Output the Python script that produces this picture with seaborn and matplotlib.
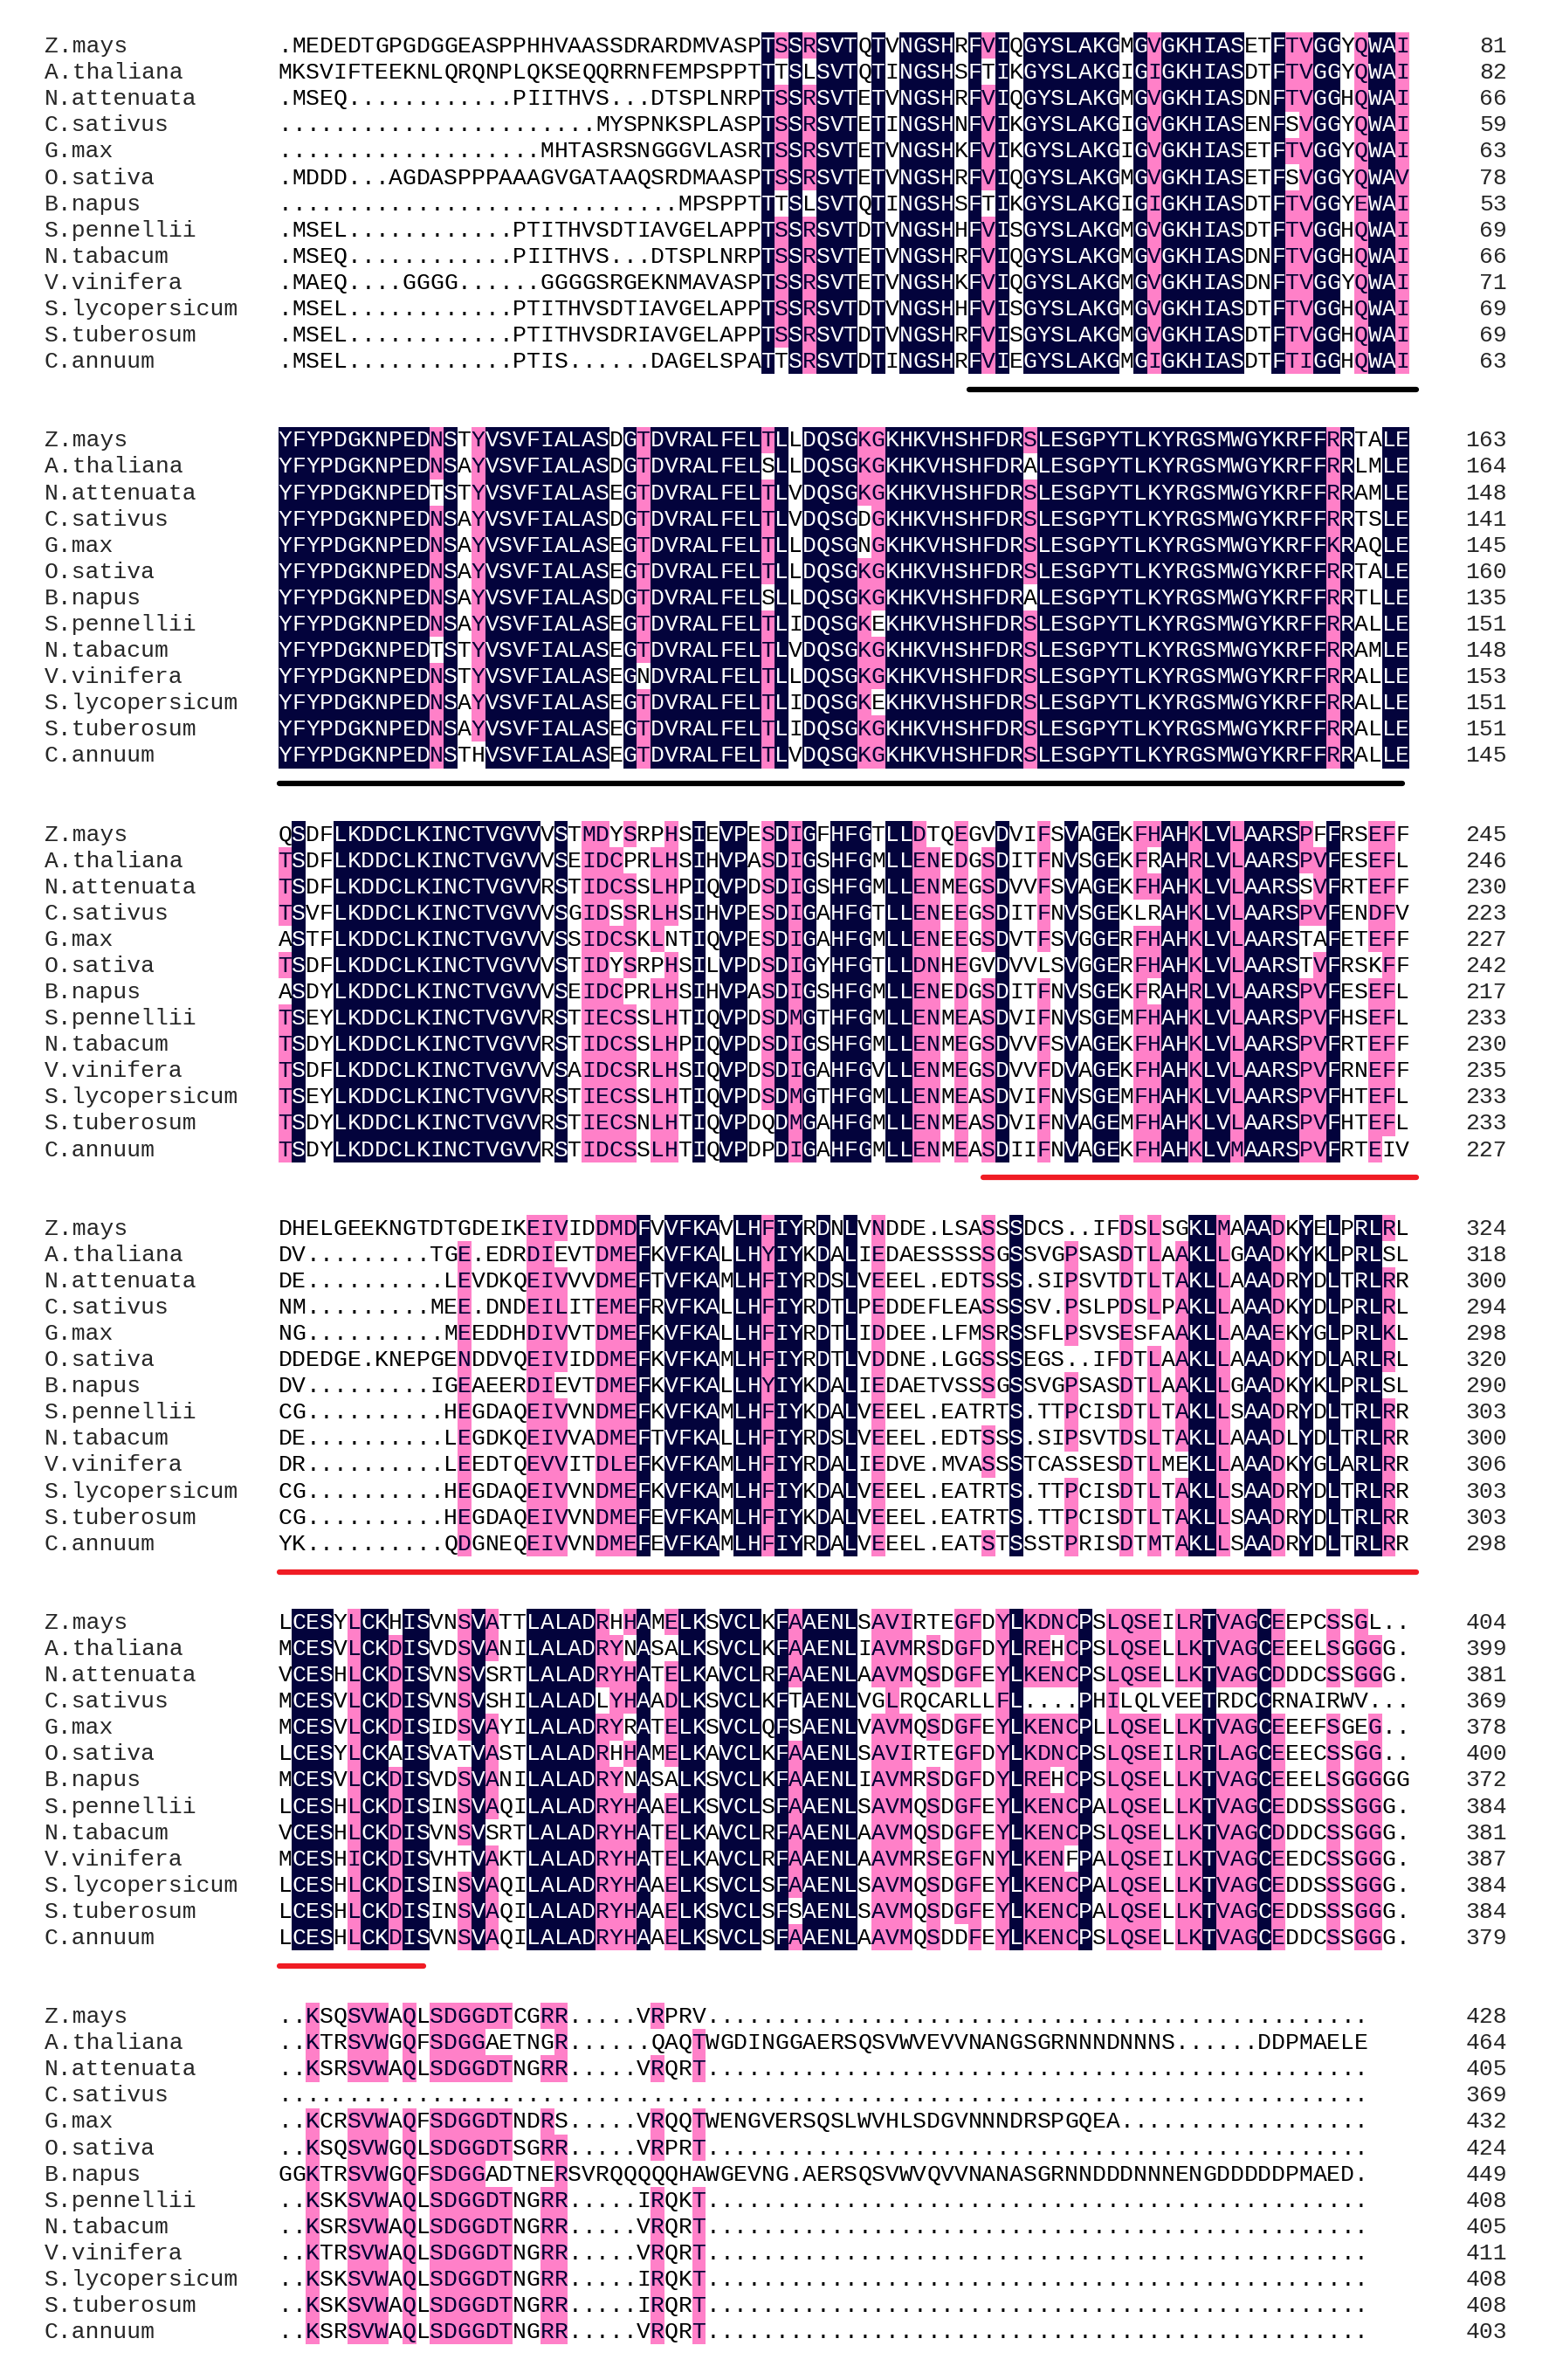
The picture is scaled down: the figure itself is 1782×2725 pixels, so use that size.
import numpy as np
import pandas as pd
import matplotlib
matplotlib.use("Agg")
import matplotlib.pyplot as plt
import seaborn as sns
from collections import Counter
from matplotlib.colors import ListedColormap

# species in alignment order
species = ["Z.mays", "A.thaliana", "N.attenuata", "C.sativus", "G.max", "O.sativa",
           "B.napus", "S.pennellii", "N.tabacum", "V.vinifera", "S.lycopersicum",
           "S.tuberosum", "C.annuum"]

block1 = [
    ".MEDEDTGPGDGGEASPPHHVAASSDRARDMVASPTSSRSVTQTVNGSHRFVIQGYSLAKGMGVGKHIASETFTVGGYQWAI",
    "MKSVIFTEEKNLQRQNPLQKSEQQRRNFEMPSPPTTTSLSVTQTINGSHSFTIKGYSLAKGIGIGKHIASDTFTVGGYQWAI",
    ".MSEQ............PIITHVS...DTSPLNRPTSSRSVTETVNGSHRFVIQGYSLAKGMGVGKHIASDNFTVGGHQWAI",
    ".......................MYSPNKSPLASPTSSRSVTETINGSHNFVIKGYSLAKGIGVGKHIASENFSVGGYQWAI",
    "...................MHTASRSNGGGVLASRTSSRSVTETVNGSHKFVIKGYSLAKGIGVGKHIASETFTVGGYQWAI",
    ".MDDD...AGDASPPPAAAGVGATAAQSRDMAASPTSSRSVTETVNGSHRFVIQGYSLAKGMGVGKHIASETFSVGGYQWAV",
    ".............................MPSPPTTTSLSVTQTINGSHSFTIKGYSLAKGIGIGKHIASDTFTVGGYEWAI",
    ".MSEL............PTITHVSDTIAVGELAPPTSSRSVTDTVNGSHHFVISGYSLAKGMGVGKHIASDTFTVGGHQWAI",
    ".MSEQ............PIITHVS...DTSPLNRPTSSRSVTETVNGSHRFVIQGYSLAKGMGVGKHIASDNFTVGGHQWAI",
    ".MAEQ....GGGG......GGGGSRGEKNMAVASPTSSRSVTETVNGSHKFVIQGYSLAKGMGVGKHIASDNFTVGGYQWAI",
    ".MSEL............PTITHVSDTIAVGELAPPTSSRSVTDTVNGSHHFVISGYSLAKGMGVGKHIASDTFTVGGHQWAI",
    ".MSEL............PTITHVSDRIAVGELAPPTSSRSVTDTVNGSHRFVISGYSLAKGMGVGKHIASDTFTVGGHQWAI",
    ".MSEL............PTIS......DAGELSPATTSRSVTDTINGSHRFVIEGYSLAKGMGIGKHIASDTFTIGGHQWAI",
]
ends1 = [81, 82, 66, 59, 63, 78, 53, 69, 66, 71, 69, 69, 63]

block2 = [
    "YFYPDGKNPEDNSTYVSVFIALASDGTDVRALFELTLLDQSGKGKHKVHSHFDRSLESGPYTLKYRGSMWGYKRFFRRTALE",
    "YFYPDGKNPEDNSAYVSVFIALASDGTDVRALFELSLLDQSGKGKHKVHSHFDRALESGPYTLKYRGSMWGYKRFFRRLMLE",
    "YFYPDGKNPEDTSTYVSVFIALASEGTDVRALFELTLVDQSGKGKHKVHSHFDRSLESGPYTLKYRGSMWGYKRFFRRAMLE",
    "YFYPDGKNPEDNSAYVSVFIALASDGTDVRALFELTLVDQSGDGKHKVHSHFDRSLESGPYTLKYRGSMWGYKRFFRRTSLE",
    "YFYPDGKNPEDNSAYVSVFIALASEGTDVRALFELTLLDQSGNGKHKVHSHFDRSLESGPYTLKYRGSMWGYKRFFKRAQLE",
    "YFYPDGKNPEDNSAYVSVFIALASEGTDVRALFELTLLDQSGKGKHKVHSHFDRSLESGPYTLKYRGSMWGYKRFFRRTALE",
    "YFYPDGKNPEDNSAYVSVFIALASDGTDVRALFELSLLDQSGKGKHKVHSHFDRALESGPYTLKYRGSMWGYKRFFRRTLLE",
    "YFYPDGKNPEDNSAYVSVFIALASEGTDVRALFELTLIDQSGKEKHKVHSHFDRSLESGPYTLKYRGSMWGYKRFFRRALLE",
    "YFYPDGKNPEDTSTYVSVFIALASEGTDVRALFELTLVDQSGKGKHKVHSHFDRSLESGPYTLKYRGSMWGYKRFFRRAMLE",
    "YFYPDGKNPEDNSTYVSVFIALASEGNDVRALFELTLLDQSGKGKHKVHSHFDRSLESGPYTLKYRGSMWGYKRFFRRALLE",
    "YFYPDGKNPEDNSAYVSVFIALASEGTDVRALFELTLIDQSGKEKHKVHSHFDRSLESGPYTLKYRGSMWGYKRFFRRALLE",
    "YFYPDGKNPEDNSAYVSVFIALASEGTDVRALFELTLIDQSGKGKHKVHSHFDRSLESGPYTLKYRGSMWGYKRFFRRALLE",
    "YFYPDGKNPEDNSTHVSVFIALASEGTDVRALFELTLVDQSGKGKHKVHSHFDRSLESGPYTLKYRGSMWGYKRFFRRALLE",
]
ends2 = [163, 164, 148, 141, 145, 160, 135, 151, 148, 153, 151, 151, 145]

block3 = [
    "QSDFLKDDCLKINCTVGVVVSTMDYSRPHSIEVPESDIGFHFGTLLDTQEGVDVIFSVAGEKFHAHKLVLAARSPFFRSEFF",
    "TSDFLKDDCLKINCTVGVVVSEIDCPRLHSIHVPASDIGSHFGMLLENEDGSDITFNVSGEKFRAHRLVLAARSPVFESEFL",
    "TSDFLKDDCLKINCTVGVVRSTIDCSSLHPIQVPDSDIGSHFGMLLENMEGSDVVFSVAGEKFHAHKLVLAARSSVFRTEFF",
    "TSVFLKDDCLKINCTVGVVVSGIDSSRLHSIHVPESDIGAHFGTLLENEEGSDITFNVSGEKLRAHKLVLAARSPVFENDFV",
    "ASTFLKDDCLKINCTVGVVVSSIDCSKLNTIQVPESDIGAHFGMLLENEEGSDVTFSVGGERFHAHKLVLAARSTAFETEFF",
    "TSDFLKDDCLKINCTVGVVVSTIDYSRPHSILVPDSDIGYHFGTLLDNHEGVDVVLSVGGERFHAHKLVLAARSTVFRSKFF",
    "ASDYLKDDCLKINCTVGVVVSEIDCPRLHSIHVPASDIGSHFGMLLENEDGSDITFNVSGEKFRAHRLVLAARSPVFESEFL",
    "TSEYLKDDCLKINCTVGVVRSTIECSSLHTIQVPDSDMGTHFGMLLENMEASDVIFNVSGEMFHAHKLVLAARSPVFHSEFL",
    "TSDYLKDDCLKINCTVGVVRSTIDCSSLHPIQVPDSDIGSHFGMLLENMEGSDVVFSVAGEKFHAHKLVLAARSPVFRTEFF",
    "TSDFLKDDCLKINCTVGVVVSAIDCSRLHSIQVPDSDIGAHFGVLLENMEGSDVVFDVAGEKFHAHKLVLAARSPVFRNEFF",
    "TSEYLKDDCLKINCTVGVVRSTIECSSLHTIQVPDSDMGTHFGMLLENMEASDVIFNVSGEMFHAHKLVLAARSPVFHTEFL",
    "TSDYLKDDCLKINCTVGVVRSTIECSNLHTIQVPDQDMGAHFGMLLENMEASDVIFNVAGEMFHAHKLVLAARSPVFHTEFL",
    "TSDYLKDDCLKINCTVGVVRSTIDCSSLHTIQVPDPDIGAHFGMLLENMEASDIIFNVAGEKFHAHKLVMAARSPVFRTEIV",
]
ends3 = [245, 246, 230, 223, 227, 242, 217, 233, 230, 235, 233, 233, 227]

block4 = [
    "DHELGEEKNGTDTGDEIKEIVIDDMDFVVFKAVLHFIYRDNLVNDDE.LSASSSDCS..IFDSLSGKLMAAADKYELPRLRL",
    "DV.........TGE.EDRDIEVTDMEFKVFKALLHYIYKDALIEDAESSSSSGSSVGPSASDTLAAKLLGAADKYKLPRLSL",
    "DE..........LEVDKQEIVVVDMEFTVFKAMLHFIYRDSLVEEEL.EDTSSS.SIPSVTDTLTAKLLAAADRYDLTRLRR",
    "NM.........MEE.DNDEILITEMEFRVFKALLHFIYRDTLPEDDEFLEASSSSV.PSLPDSLPAKLLAAADKYDLPRLRL",
    "NG..........MEEDDHDIVVTDMEFKVFKALLHFIYRDTLIDDEE.LFMSRSSFLPSVSESFAAKLLAAAEKYGLPRLKL",
    "DDEDGE.KNEPGENDDVQEIVIDDMEFKVFKAMLHFIYRDTLVDDNE.LGGSSSEGS..IFDTLAAKLLAAADKYDLARLRL",
    "DV.........IGEAEERDIEVTDMEFKVFKALLHYIYKDALIEDAETVSSSGSSVGPSASDTLAAKLLGAADKYKLPRLSL",
    "CG..........HEGDAQEIVVNDMEFKVFKAMLHFIYKDALVEEEL.EATRTS.TTPCISDTLTAKLLSAADRYDLTRLRR",
    "DE..........LEGDKQEIVVADMEFTVFKALLHFIYRDSLVEEEL.EDTSSS.SIPSVTDSLTAKLLAAADLYDLTRLRR",
    "DR..........LEEDTQEVVITDLEFKVFKAMLHFIYRDALIEDVE.MVASSSTCASSESDTLMEKLLAAADKYGLARLRR",
    "CG..........HEGDAQEIVVNDMEFKVFKAMLHFIYKDALVEEEL.EATRTS.TTPCISDTLTAKLLSAADRYDLTRLRR",
    "CG..........HEGDAQEIVVNDMEFEVFKAMLHFIYKDALVEEEL.EATRTS.TTPCISDTLTAKLLSAADRYDLTRLRR",
    "YK..........QDGNEQEIVVNDMEFEVFKAMLHFIYRDALVEEEL.EATSTSSSTPRISDTMTAKLLSAADRYDLTRLRR",
]
ends4 = [324, 318, 300, 294, 298, 320, 290, 303, 300, 306, 303, 303, 298]

block5 = [
    "LCESYLCKHISVNSVATTLALADRHHAMELKSVCLKFAAENLSAVIRTEGFDYLKDNCPSLQSEILRTVAGCEEPCSSGL..",
    "MCESVLCKDISVDSVANILALADRYNASALKSVCLKFAAENLIAVMRSDGFDYLREHCPSLQSELLKTVAGCEEELSGGGG.",
    "VCESHLCKDISVNSVSRTLALADRYHATELKAVCLRFAAENLAAVMQSDGFEYLKENCPSLQSELLKTVAGCDDDCSSGGG.",
    "MCESVLCKDISVNSVSHILALADLYHAADLKSVCLKFTAENLVGLRQCARLLFL....PHILQLVEETRDCCRNAIRWV...",
    "MCESVLCKDISIDSVAYILALADRYRATELKSVCLQFSAENLVAVMQSDGFEYLKENCPLLQSELLKTVAGCEEEFSGEG..",
    "LCESYLCKAISVATVASTLALADRHHAMELKAVCLKFAAENLSAVIRTEGFDYLKDNCPSLQSEILRTLAGCEEECSSGG..",
    "MCESVLCKDISVDSVANILALADRYNASALKSVCLKFAAENLIAVMRSDGFDYLREHCPSLQSELLKTVAGCEEELSGGGGG",
    "LCESHLCKDISINSVAQILALADRYHAAELKSVCLSFAAENLSAVMQSDGFEYLKENCPALQSELLKTVAGCEDDSSSGGG.",
    "VCESHLCKDISVNSVSRTLALADRYHATELKAVCLRFAAENLAAVMQSDGFEYLKENCPSLQSELLKTVAGCDDDCSSGGG.",
    "MCESHICKDISVHTVAKTLALADRYHATELKAVCLRFAAENLAAVMRSEGFNYLKENFPALQSEILKTVAGCEEDCSSGGG.",
    "LCESHLCKDISINSVAQILALADRYHAAELKSVCLSFAAENLSAVMQSDGFEYLKENCPALQSELLKTVAGCEDDSSSGGG.",
    "LCESHLCKDISINSVAQILALADRYHAAELKSVCLSFSAENLSAVMQSDGFEYLKENCPALQSELLKTVAGCEDDSSSGGG.",
    "LCESHLCKDISVNSVAQILALADRYHAAELKSVCLSFAAENLAAVMQSDDFEYLKENCPSLQSELLKTVAGCEDDCSSGGG.",
]
ends5 = [404, 399, 381, 369, 378, 400, 372, 384, 381, 387, 384, 384, 379]

block6 = [
    "..KSQSVWAQLSDGGDTCGRR.....VRPRV................................................",
    "..KTRSVWGQFSDGGAETNGR......QAQTWGDINGGAERSQSVWVEVVNANGSGRNNNDNNNS......DDPMAELE",
    "..KSRSVWAQLSDGGDTNGRR.....VRQRT................................................",
    "...............................................................................",
    "..KCRSVWAQFSDGGDTNDRS.....VRQQTWENGVERSQSLWVHLSDGVNNNDRSPGQEA..................",
    "..KSQSVWGQLSDGGDTSGRR.....VRPRT................................................",
    "GGKTRSVWGQFSDGGADTNERSVRQQQQQHAWGEVNG.AERSQSVWVQVVNANASGRNNDDDNNNENGDDDDDPMAED.",
    "..KSKSVWAQLSDGGDTNGRR.....IRQKT................................................",
    "..KSRSVWAQLSDGGDTNGRR.....VRQRT................................................",
    "..KTRSVWAQLSDGGDTNGRR.....VRQRT................................................",
    "..KSKSVWAQLSDGGDTNGRR.....IRQKT................................................",
    "..KSKSVWAQLSDGGDTNGRR.....IRQRT................................................",
    "..KSRSVWAQLSDGGDTNGRR.....VRQRT................................................",
]
ends6 = [428, 464, 405, 369, 432, 424, 449, 408, 405, 411, 408, 408, 403]

blocks = [block1, block2, block3, block4, block5, block6]
ends = [ends1, ends2, ends3, ends4, ends5, ends6]

# marked regions under the blocks: (block, first column, last column, colour)
marks = [(0, 50, 82, "black"), (1, 0, 81, "black"), (2, 51, 82, "#f01c24"),
         (3, 0, 82, "#f01c24"), (4, 0, 10, "#f01c24")]

NAVY = "#03033c"
PINK = "#ff80c8"
SIMILAR = ["DENQ", "KR", "ILMV", "FYW"]

for b, block in enumerate(blocks):
    bad = [(species[k], len(s)) for k, s in enumerate(block) if len(s) != len(block[0])]
    if bad:
        raise ValueError(f"block {b + 1} lengths {len(block[0])}: {bad}")


def shade(block):
    n = len(block)
    lev = np.zeros((n, len(block[0])))
    for j in range(len(block[0])):
        col = [s[j] for s in block]
        res = [c for c in col if c != "."]
        if not res:
            continue
        top, count = Counter(res).most_common(1)[0]
        if count == n:
            lev[:, j] = 2
        elif count >= 0.75 * n:
            grp = next((g for g in SIMILAR if top in g), top)
            for i, c in enumerate(col):
                if c in grp:
                    lev[i, j] = 1
    return lev


STEP = 15
n_rows = STEP * (len(blocks) - 1) + len(species)
n_cols = max(len(b[0]) for b in blocks)
grid = np.full((n_rows, n_cols), np.nan)
for b, block in enumerate(blocks):
    lev = shade(block)
    grid[b * STEP:b * STEP + len(block), :lev.shape[1]] = lev

sns.set_style("white")
plt.rcParams["font.family"] = ["Liberation Mono", "DejaVu Sans Mono"]

W, H = 1782, 2725
fig = plt.figure(figsize=(W / 100, H / 100), dpi=100)
ax = fig.add_axes([0, 0, 1, 1])
sns.heatmap(pd.DataFrame(grid), cmap=ListedColormap(["white", PINK, NAVY]),
            vmin=-0.5, vmax=2.5, cbar=False, xticklabels=False, yticklabels=False,
            linewidths=0, ax=ax)
cw, rh, x0, y0 = 15.8, 30.08, 318.6, 37.3
ax.set_position([x0 / W, (H - y0 - n_rows * rh) / H, n_cols * cw / W, n_rows * rh / H])
ax.axis("off")

fs = 19
base = 0.5 + 0.26
txt_col = {0: "black", 1: "#000033", 2: "white"}
for b, block in enumerate(blocks):
    for i, seq in enumerate(block):
        r = b * STEP + i
        ax.text((50.5 - x0) / cw, r + base, species[i], fontsize=fs, ha="left",
                va="baseline", clip_on=False)
        ax.text((1726 - x0) / cw, r + base, str(ends[b][i]), fontsize=fs, ha="right",
                va="baseline", clip_on=False)
        for j, ch in enumerate(seq):
            ax.text(j + 0.5, r + base, ch, fontsize=fs, ha="center", va="baseline",
                    color=txt_col[int(grid[r, j])])

for b, c0, c1, color in marks:
    y = b * STEP + 13.59
    ax.plot([c0 + 0.1, c1 + 0.5], [y, y], color=color, lw=4.5,
            solid_capstyle="round", clip_on=False)

fig.savefig("out.png", dpi=100)
